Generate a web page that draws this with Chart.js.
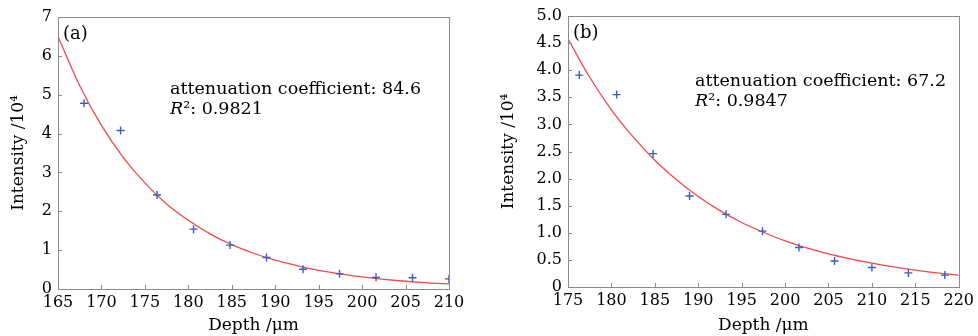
<!DOCTYPE html>
<html>
<head>
<meta charset="utf-8">
<script src="https://cdn.jsdelivr.net/npm/chart.js@4/dist/chart.umd.min.js"></script>
<style>
  html, body { margin: 0; padding: 0; background: #fff; }
  body { width: 978px; height: 336px; position: relative; overflow: hidden; }
  .box { position: absolute; top: 0; }
</style>
</head>
<body>
<div class="box" style="left:0px;width:470px;height:336px"><canvas id="ca" width="470" height="336"></canvas></div>
<div class="box" style="left:490px;width:488px;height:336px"><canvas id="cb" width="488" height="336"></canvas></div>
<script>
// ---------- Panel (a) data ----------
const depthA = [168.0, 172.2, 176.4, 180.6, 184.8, 189.0, 193.2, 197.4, 201.6, 205.8, 210.0];
const intensityA = [4.78, 4.08, 2.42, 1.54, 1.13, 0.81, 0.51, 0.39, 0.30, 0.29, 0.26];
const fitDepthA = [165, 167.5, 170, 172.5, 175, 177.5, 180, 182.5, 185, 187.5, 190, 192.5, 195, 197.5, 200, 202.5, 205, 207.5, 210];
const fitIntensityA = [6.50, 5.23, 4.21, 3.39, 2.73, 2.19, 1.77, 1.42, 1.14, 0.92, 0.74, 0.60, 0.48, 0.39, 0.31, 0.25, 0.20, 0.16, 0.13];
const yTicksA = ["0", "1", "2", "3", "4", "5", "6", "7"];
const labelA = "(a)";
const coefA = "attenuation coefficient: 84.6";
const r2A = "0.9821";

// ---------- Panel (b) data ----------
const depthB = [176.3, 180.6, 184.8, 189.0, 193.2, 197.4, 201.6, 205.7, 210.0, 214.2, 218.4];
const intensityB = [3.91, 3.55, 2.46, 1.68, 1.34, 1.03, 0.73, 0.48, 0.36, 0.26, 0.22];
const fitDepthB = [175, 177.5, 180, 182.5, 185, 187.5, 190, 192.5, 195, 197.5, 200, 202.5, 205, 207.5, 210, 212.5, 215, 217.5, 220];
const fitIntensityB = [4.58, 3.87, 3.27, 2.77, 2.34, 1.98, 1.67, 1.41, 1.19, 1.01, 0.85, 0.72, 0.61, 0.52, 0.44, 0.37, 0.31, 0.26, 0.22];
const yTicksB = ["0", "0.5", "1.0", "1.5", "2.0", "2.5", "3.0", "3.5", "4.0", "4.5", "5.0"];
const labelB = "(b)";
const coefB = "attenuation coefficient: 67.2";
const r2B = "0.9847";

const xTitle = "Depth /\u03bcm";
const yTitle = "Intensity /10\u2074";

const FONT = "'DejaVu Serif', 'Liberation Serif', serif";
const BLUE = "#3a5cc4";
const RED = "#f24848";
const FRAME = "#8a8a8a";
const TEXT = "#000";

function makePanel(id, cfg) {
  const framePlugin = {
    id: 'frame' + id,
    afterDraw(chart) {
      const ctx = chart.ctx;
      const a = chart.chartArea;
      ctx.save();
      ctx.strokeStyle = FRAME;
      ctx.lineWidth = 1;
      ctx.strokeRect(Math.round(a.left) + 0.5, Math.round(a.top) + 0.5,
                     Math.round(a.right - a.left), Math.round(a.bottom - a.top));
      // inward tick marks
      const xs = chart.scales.x, ys = chart.scales.y;
      ctx.beginPath();
      xs.ticks.forEach(t => {
        const px = Math.round(xs.getPixelForValue(t.value)) + 0.5;
        ctx.moveTo(px, a.bottom); ctx.lineTo(px, a.bottom - 4);
      });
      ys.ticks.forEach(t => {
        const py = Math.round(ys.getPixelForValue(t.value)) + 0.5;
        ctx.moveTo(a.left, py); ctx.lineTo(a.left + 4, py);
      });
      ctx.stroke();
      // annotations
      ctx.fillStyle = TEXT;
      ctx.textBaseline = 'alphabetic';
      ctx.textAlign = 'left';
      ctx.font = "18px " + FONT;
      ctx.fillText(cfg.label, a.left + 5, a.top + 22);
      ctx.font = "17.5px " + FONT;
      ctx.fillText(cfg.coef, a.left + cfg.annX, a.top + cfg.annY);
      ctx.font = "italic 17.5px " + FONT;
      const rx = a.left + cfg.annX;
      const ry = a.top + cfg.annY + 20;
      ctx.fillText("R", rx, ry);
      const rw = ctx.measureText("R").width;
      ctx.font = "17.5px " + FONT;
      ctx.fillText("\u00b2: " + cfg.r2, rx + rw, ry);
      ctx.restore();
    }
  };

  return new Chart(document.getElementById(id), {
    type: 'scatter',
    data: {
      datasets: [
        {
          data: cfg.fitX.map((x, i) => ({ x: x, y: cfg.fitY[i] })),
          showLine: true,
          borderColor: RED,
          borderWidth: 1.3,
          pointRadius: 0,
          cubicInterpolationMode: 'monotone',
          order: 2
        },
        {
          data: cfg.px.map((x, i) => ({ x: x, y: cfg.py[i] })),
          showLine: false,
          pointStyle: 'cross',
          pointRadius: 4,
          borderColor: BLUE,
          backgroundColor: BLUE,
          borderWidth: 1.4,
          order: 1
        }
      ]
    },
    options: {
      responsive: false,
      animation: false,
      events: [],
      layout: { padding: { top: cfg.padTop, right: cfg.padRight, left: 0, bottom: 0 } },
      plugins: { legend: { display: false }, tooltip: { enabled: false } },
      scales: {
        x: {
          type: 'linear',
          min: cfg.xmin, max: cfg.xmax,
          afterFit(s) { s.height = cfg.xAxisH; },
          grid: { display: false, drawTicks: false },
          border: { display: false },
          ticks: {
            stepSize: 5, padding: 4, color: TEXT,
            font: { family: FONT, size: 16 },
            maxRotation: 0, autoSkip: false
          },
          title: {
            display: true, text: xTitle, color: TEXT,
            font: { family: FONT, size: 17 }, padding: { top: 0, bottom: 0 }
          }
        },
        y: {
          type: 'linear',
          min: 0, max: cfg.ymax,
          afterFit(s) { s.width = cfg.yAxisW; },
          grid: { display: false, drawTicks: false },
          border: { display: false },
          ticks: {
            stepSize: cfg.ystep, padding: 6, color: TEXT,
            font: { family: FONT, size: 16 },
            autoSkip: false,
            callback: (v, i) => cfg.yLabels[i]
          },
          title: {
            display: true, text: yTitle, color: TEXT,
            font: { family: FONT, size: 17 }, padding: { top: 8, bottom: 0 }
          }
        }
      }
    },
    plugins: [framePlugin]
  });
}

makePanel('ca', {
  px: depthA, py: intensityA, fitX: fitDepthA, fitY: fitIntensityA,
  xmin: 165, xmax: 210, ymax: 7, ystep: 1, yLabels: yTicksA,
  label: labelA, coef: coefA, r2: r2A,
  yAxisW: 58, xAxisH: 47, padTop: 17, padRight: 21,
  annX: 112, annY: 77
});

makePanel('cb', {
  px: depthB, py: intensityB, fitX: fitDepthB, fitY: fitIntensityB,
  xmin: 175, xmax: 220, ymax: 5, ystep: 0.5, yLabels: yTicksB,
  label: labelB, coef: coefB, r2: r2B,
  yAxisW: 78, xAxisH: 49, padTop: 16, padRight: 19,
  annX: 127, annY: 70
});
</script>
</body>
</html>
